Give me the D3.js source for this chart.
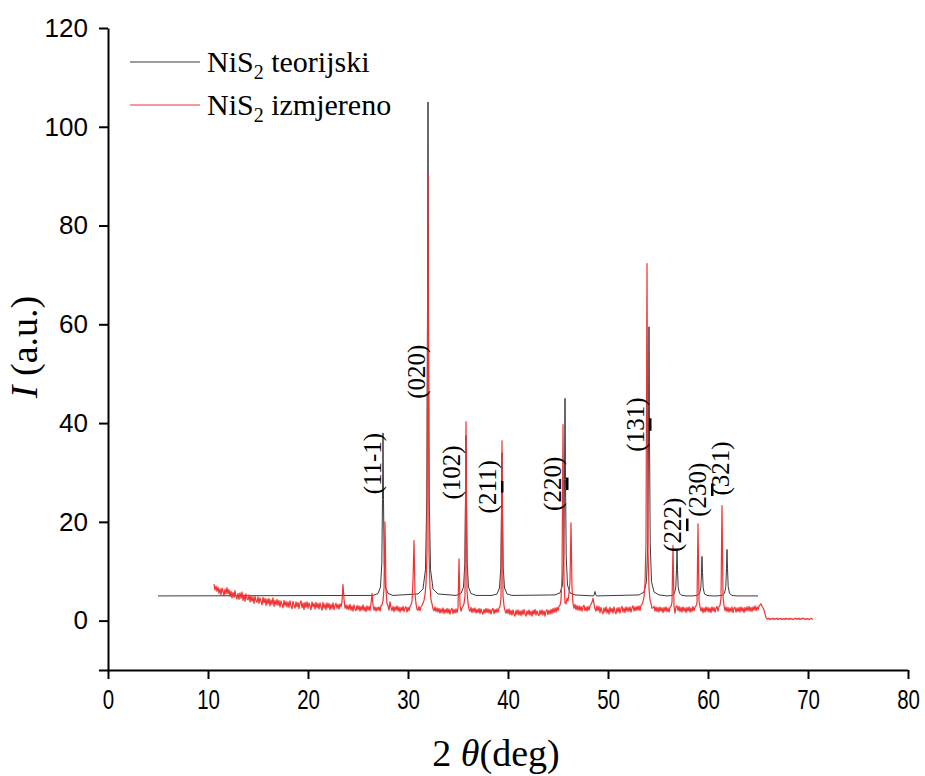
<!DOCTYPE html>
<html><head><meta charset="utf-8">
<script src="https://cdn.jsdelivr.net/npm/d3@7"></script>
<style>body{margin:0;background:#fff}svg{display:block}</style>
</head><body><svg id="c" width="925" height="776"></svg>
<script>
// ---------------- data ----------------
const xTicks = [0, 10, 20, 30, 40, 50, 60, 70, 80];
const xMinorTicks = [5, 15, 25, 35, 45, 55, 65, 75];
const yTicks = [0, 20, 40, 60, 80, 100, 120];
const yMinorTicks = [-10, 10, 30, 50, 70, 90, 110];

const seriesNames = ["NiS\u2082 teorijski", "NiS\u2082 izmjereno"];

// theoretical pattern: [2theta, intensity]
const theoryPoints = [
  [5.0, 5.0],
  [26.5, 5.1], [27.0, 5.5], [27.25, 6.8], [27.38, 11.6], [27.45, 24.5], [27.5, 38.0], [27.55, 24.5], [27.62, 11.6], [27.75, 6.8], [28.0, 5.5], [28.5, 5.1],
  [31.0, 5.4], [31.5, 6.4], [31.75, 10.4], [31.88, 25.0], [31.95, 64.0], [32.0, 105.0], [32.05, 64.0], [32.12, 25.0], [32.25, 10.4], [32.5, 6.4], [33.0, 5.4],
  [34.8, 5.1], [35.3, 5.5], [35.55, 6.8], [35.68, 11.5], [35.75, 24.2], [35.8, 37.5], [35.85, 24.2], [35.92, 11.5], [36.05, 6.8], [36.3, 5.5], [36.8, 5.1],
  [38.4, 5.1], [38.9, 5.4], [39.15, 6.6], [39.28, 10.8], [39.35, 22.1], [39.4, 34.0], [39.45, 22.1], [39.52, 10.8], [39.65, 6.6], [39.9, 5.4], [40.4, 5.1],
  [44.7, 5.2], [45.2, 5.6], [45.45, 7.2], [45.58, 13.0], [45.65, 28.6], [45.7, 45.0], [45.75, 28.6], [45.82, 13.0], [45.95, 7.2], [46.2, 5.6], [46.7, 5.2],
  [48.55, 5.0], [48.65, 5.4], [48.7, 5.9], [48.75, 5.4], [48.85, 5.0],
  [53.1, 5.2], [53.6, 5.8], [53.85, 7.9], [53.98, 15.9], [54.05, 37.2], [54.1, 59.5], [54.15, 37.2], [54.22, 15.9], [54.35, 7.9], [54.6, 5.8], [55.1, 5.2],
  [55.9, 5.0], [56.4, 5.1], [56.65, 5.5], [56.78, 6.8], [56.85, 10.4], [56.9, 14.2], [56.95, 10.4], [57.02, 6.8], [57.15, 5.5], [57.4, 5.1], [57.9, 5.0],
  [58.4, 5.0], [58.9, 5.1], [59.15, 5.4], [59.28, 6.6], [59.35, 9.7], [59.4, 13.0], [59.45, 9.7], [59.52, 6.6], [59.65, 5.4], [59.9, 5.1], [60.4, 5.0],
  [60.9, 5.0], [61.4, 5.1], [61.65, 5.5], [61.78, 6.9], [61.85, 10.5], [61.9, 14.4], [61.95, 10.5], [62.02, 6.9], [62.15, 5.5], [62.4, 5.1], [62.9, 5.0],
  [65.0, 5.0]
];

// measured pattern: intensities from 10.6 deg in 0.1 deg steps
const measuredStart = 10.6;
const measuredStep = 0.1;
const measuredIntensity = [
  7.4, 6.2, 7.0, 5.9,
  6.8, 5.5, 6.5, 5.2, 6.6, 5.9, 5.0, 6.4, 5.4, 6.7,
  5.4, 6.3, 4.9, 6.0, 4.6, 5.7, 4.7, 6.1, 4.8, 4.4,
  5.5, 4.3, 5.6, 4.5, 5.8, 4.1, 5.2, 3.9, 5.4, 4.4,
  4.2, 5.2, 3.8, 5.0, 3.9, 4.8, 3.5, 4.9, 4.0, 3.7,
  4.8, 3.5, 4.6, 3.9, 3.2, 4.7, 3.6, 4.5, 3.1, 4.4,
  3.4, 4.5, 3.0, 4.2, 3.3, 4.6, 2.9, 4.1, 3.2, 4.3,
  3.1, 4.1, 2.8, 4.0, 3.3, 2.6, 4.1, 3.0, 3.9, 2.8,
  3.8, 2.7, 4.0, 2.9, 2.4, 3.9, 3.1, 2.5, 3.8, 2.8,
  3.7, 2.4, 3.5, 4.0, 2.6, 3.6, 2.2, 3.7, 2.7, 3.8,
  2.5, 3.6, 3.0, 2.2, 3.8, 2.8, 3.5, 2.3, 3.7, 2.6,
  3.5, 2.3, 3.6, 2.8, 2.1, 3.7, 2.5, 3.4, 2.2, 3.6,
  2.6, 3.5, 2.2, 3.3, 2.4, 3.6, 2.2, 3.1, 3.5, 2.5,
  3.3, 2.3, 3.4, 2.8, 3.8, 7.3, 4.4, 2.5, 3.2, 2.3,
  3.1, 2.2, 3.3, 2.1, 3.0, 1.9, 3.2, 2.3, 2.0, 3.1,
  2.2, 3.0, 1.9, 2.9, 2.1, 3.2, 2.0, 2.8, 1.8, 3.0,
  2.1, 2.9, 2.0, 3.4, 5.5, 3.2, 2.1, 2.8, 1.9, 2.7,
  2.1, 2.8, 1.9, 3.0, 3.2, 4.0, 6.5, 20.0, 6.2, 3.4,
  3.0, 2.1, 3.8, 2.6, 2.0, 2.9, 1.8, 2.8, 2.1, 3.0,
  1.9, 2.8, 1.7, 2.7, 2.0, 2.9, 1.8, 2.6, 2.8, 1.7,
  2.7, 2.0, 2.9, 3.2, 3.9, 8.0, 16.2, 5.5, 3.4, 2.3,
  2.1, 2.9, 2.0, 2.8, 3.1, 3.5, 4.1, 5.2, 7.5, 14.0,
  90.5, 14.0, 6.8, 4.2, 3.4, 2.4, 2.0, 2.8, 1.8, 2.6,
  1.7, 2.5, 1.5, 2.4, 1.6, 2.6, 1.4, 2.3, 1.6, 2.5,
  1.5, 2.4, 1.3, 2.2, 2.5, 1.4, 2.3, 1.5, 2.4, 1.6,
  2.5, 12.5, 3.2, 1.9, 2.6, 2.9, 3.4, 5.0, 40.3, 6.0,
  3.6, 2.3, 1.9, 2.7, 1.6, 2.5, 1.7, 2.6, 1.5, 2.3,
  1.6, 2.5, 1.4, 2.4, 1.7, 1.3, 2.3, 1.5, 2.5, 1.6,
  2.4, 1.5, 2.3, 1.3, 2.2, 2.5, 1.4, 2.3, 1.6, 2.4,
  1.7, 2.5, 2.9, 4.5, 36.4, 5.0, 3.0, 2.0, 1.5, 2.3,
  1.4, 2.4, 1.2, 2.1, 1.1, 2.2, 1.3, 0.9, 2.1, 1.2,
  2.2, 1.1, 2.0, 1.0, 2.1, 1.2, 2.3, 1.3, 0.9, 2.0,
  1.2, 2.2, 1.1, 1.9, 0.9, 2.1, 1.3, 2.3, 1.1, 2.0,
  1.3, 1.0, 2.1, 1.2, 2.2, 1.1, 2.0, 0.9, 1.9, 2.2,
  1.2, 2.1, 1.3, 2.3, 1.4, 2.5, 1.6, 2.6, 1.7, 2.7,
  2.0, 2.9, 3.1, 4.2, 9.0, 39.7, 8.0, 3.6, 3.4, 4.5,
  4.0, 5.5, 8.0, 19.8, 6.5, 3.6, 2.5, 3.3, 2.2, 3.1,
  2.1, 3.0, 2.0, 2.9, 1.9, 2.8, 3.1, 2.0, 2.8, 1.9,
  2.9, 2.1, 3.0, 3.3, 3.7, 4.5, 3.4, 2.4, 1.9, 3.0,
  2.0, 2.9, 1.6, 2.7, 1.8, 1.4, 2.6, 1.7, 2.8, 1.5,
  2.4, 1.3, 2.7, 1.7, 2.5, 1.5, 2.8, 1.8, 1.4, 2.6,
  1.7, 2.7, 1.5, 2.5, 2.9, 1.7, 2.6, 1.6, 2.8, 1.9,
  2.7, 1.8, 2.8, 1.7, 2.6, 3.0, 1.9, 2.8, 2.0, 2.9,
  2.1, 3.0, 2.0, 3.1, 3.3, 3.9, 4.8, 7.5, 16.0, 72.3,
  14.0, 6.5, 4.2, 3.4, 2.5, 2.6, 2.9, 1.9, 2.8, 1.8,
  2.7, 1.7, 2.8, 1.9, 2.6, 1.6, 2.7, 1.9, 2.8, 1.8,
  2.6, 1.7, 2.7, 2.9, 3.7, 15.2, 3.0, 1.5, 2.8, 3.0,
  2.0, 2.9, 1.8, 2.7, 1.7, 2.8, 1.9, 2.6, 1.6, 2.7,
  1.9, 2.8, 1.7, 2.6, 1.8, 2.9, 2.0, 2.7, 3.0, 3.5,
  19.6, 4.0, 2.8, 1.9, 2.7, 1.6, 2.6, 1.7, 2.8, 1.9,
  2.7, 1.7, 2.6, 1.6, 2.8, 1.9, 2.7, 1.7, 2.5, 2.9,
  1.9, 2.8, 3.1, 4.5, 23.3, 5.0, 3.0, 2.0, 2.8, 1.8,
  2.7, 1.7, 2.6, 1.8, 2.8, 1.6, 2.5, 2.7, 1.7, 2.6,
  1.8, 2.7, 1.7, 2.8, 1.9, 2.6, 1.6, 2.7, 1.9, 2.8,
  2.0, 2.9, 1.9, 2.7, 1.8, 2.8, 2.1, 3.0, 2.0, 2.8,
  2.2, 2.9, 3.2, 3.4, 2.9, 2.6, 2.1, 1.4, 0.6, 0.4,
  0.3, 0.5, 0.2, 0.4, 0.3, 0.5, 0.2, 0.4, 0.3, 0.5,
  0.2, 0.4, 0.3, 0.5, 0.2, 0.3, 0.4, 0.2, 0.5, 0.3,
  0.4, 0.2, 0.5, 0.3, 0.4, 0.2, 0.3, 0.5, 0.3, 0.4,
  0.3, 0.5, 0.2, 0.4, 0.3, 0.5, 0.4, 0.2, 0.4, 0.3,
  0.4, 0.2, 0.3, 0.5, 0.3, 0.3
];

// peak labels (Miller indices); "u" marks the barred digit
const peakLabels = [
  {pre: "(11-1)", u: "", post: "", theta: 26.4, level: 31.8},
  {pre: "(020)", u: "", post: "", theta: 30.8, level: 50.4},
  {pre: "(102)", u: "", post: "", theta: 34.3, level: 30.0},
  {pre: "(2", u: "1", post: "1)", theta: 37.9, level: 27.1},
  {pre: "(2", u: "2", post: "0)", theta: 44.4, level: 27.7},
  {pre: "(1", u: "3", post: "1)", theta: 52.7, level: 39.7},
  {pre: "(2", u: "2", post: "2)", theta: 56.4, level: 19.4},
  {pre: "(2", u: "3", post: "0)", theta: 58.9, level: 26.5},
  {pre: "(321)", u: "", post: "", theta: 61.2, level: 30.8}
];

// ---------------- chart ----------------
const svg = d3.select("#c");
const x = d3.scaleLinear().domain([0, 80]).range([108, 908]);
const y = d3.scaleLinear().domain([-10, 120]).range([670, 28]);

const serif = "'Liberation Serif','Times New Roman',Times,serif";
const sans = "'Liberation Sans',Arial,Helvetica,sans-serif";

const measuredPoints = measuredIntensity.map((v, i) => [measuredStart + i * measuredStep, v]);

const line = d3.line().x(d => x(d[0])).y(d => y(d[1]));

svg.append("path").datum(theoryPoints).attr("d", line)
  .attr("fill", "none").attr("stroke", "#3a3a3a").attr("stroke-width", 1);
svg.append("path").datum(measuredPoints).attr("d", line)
  .attr("fill", "none").attr("stroke", "#f03232").attr("stroke-width", 1.2)
  .attr("stroke-linejoin", "round");

// axes
const gx = svg.append("g").attr("transform", `translate(0,${y(-10)})`);
gx.call(d3.axisBottom(x).tickValues(xMinorTicks).tickSize(5).tickSizeOuter(0).tickFormat(""));
gx.call(d3.axisBottom(x).tickValues(xTicks).tickSize(9).tickSizeOuter(0).tickPadding(10));
gx.selectAll("text").attr("font-family", sans).attr("font-size", 28).attr("fill", "#000")
  .attr("transform", "scale(0.73,1)");
gx.selectAll("line").attr("stroke", "#000").attr("stroke-width", 2);
gx.selectAll(".domain").attr("stroke", "#000").attr("stroke-width", 2);

const gy = svg.append("g").attr("transform", `translate(${x(0)},0)`);
gy.call(d3.axisLeft(y).tickValues(yMinorTicks).tickSize(5).tickSizeOuter(0).tickFormat(""));
gy.call(d3.axisLeft(y).tickValues(yTicks).tickSize(9).tickSizeOuter(0).tickPadding(11));
gy.selectAll("text").attr("font-family", sans).attr("font-size", 26).attr("fill", "#000");
gy.selectAll("line").attr("stroke", "#000").attr("stroke-width", 2);
gy.selectAll(".domain").attr("stroke", "#000").attr("stroke-width", 2);
gx.select(".domain").attr("d", `M${x(0)-9},0.5H${x(80)}`);

// axis titles
const xt = svg.append("text").attr("x", 496).attr("y", 766).attr("text-anchor", "middle")
  .attr("font-family", serif).attr("font-size", 38).attr("fill", "#000");
xt.append("tspan").text("2 ");
xt.append("tspan").attr("font-style", "italic").text("\u03b8");
xt.append("tspan").text("(deg)");

const yt = svg.append("text").attr("transform", "translate(37,347) rotate(-90)")
  .attr("text-anchor", "middle").attr("font-family", serif).attr("font-size", 38).attr("fill", "#000");
yt.append("tspan").attr("font-style", "italic").text("I");
yt.append("tspan").text(" (a.u.)");

// peak labels
peakLabels.forEach(p => {
  const t = svg.append("text")
    .attr("transform", `translate(${x(p.theta)},${y(p.level)}) rotate(-90)`)
    .attr("text-anchor", "middle").attr("dominant-baseline", "central")
    .attr("font-family", serif).attr("font-size", 25).attr("fill", "#000");
  t.append("tspan").text(p.pre);
  if (p.u) {
    t.append("tspan").style("text-decoration", "underline")
      .style("text-decoration-thickness", "3px").text(p.u);
    t.append("tspan").text(p.post);
  }
});

// legend
const legendColors = ["#3a3a3a", "#f03232"];
seriesNames.forEach((name, i) => {
  const gy0 = 62 + i * 43;
  svg.append("line").attr("x1", 130).attr("x2", 200).attr("y1", gy0).attr("y2", gy0)
    .attr("stroke", legendColors[i]).attr("stroke-width", 1);
  const t = svg.append("text").attr("x", 207).attr("y", gy0 + 10)
    .attr("font-family", serif).attr("font-size", 30).attr("fill", "#000");
  const parts = name.split("\u2082");
  t.append("tspan").text(parts[0]);
  t.append("tspan").attr("font-size", 20).attr("dy", 7).text("2");
  t.append("tspan").attr("dy", -7).text(parts[1]);
});
</script>
</body></html>
